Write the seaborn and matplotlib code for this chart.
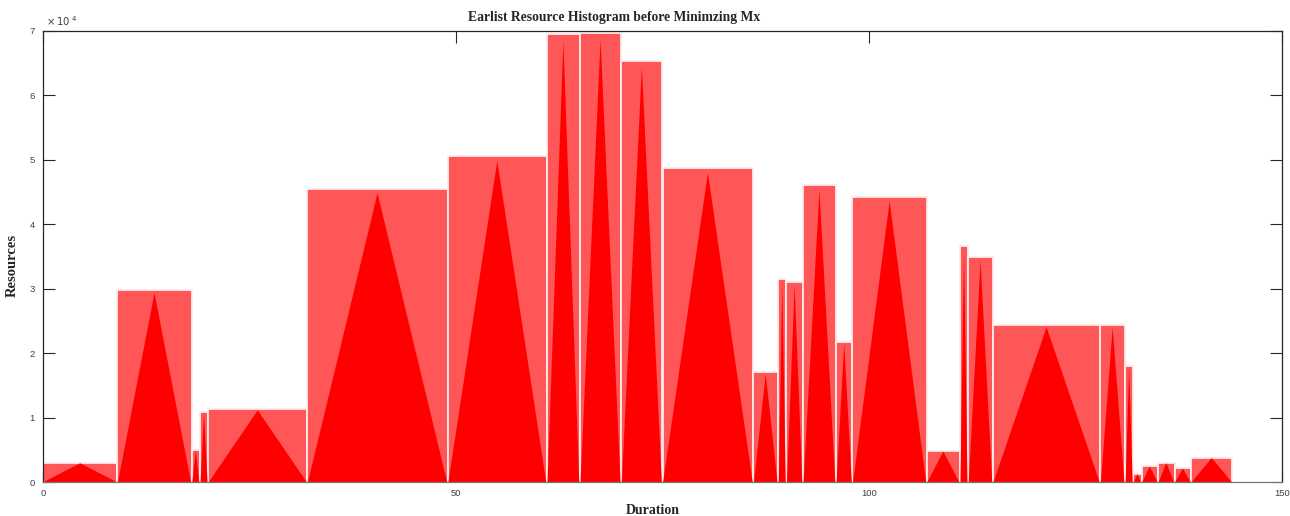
import matplotlib
matplotlib.use("Agg")
import matplotlib.pyplot as plt
import seaborn as sns
import numpy as np

# ---- data ----
bar_start = [0, 9, 18, 19, 20, 32, 49, 61, 65, 70, 75, 86, 89, 90, 92, 96, 98,
             107, 111, 112, 115, 128, 131, 132, 133, 135, 137, 139]
bar_end = [9, 18, 19, 20, 32, 49, 61, 65, 70, 75, 86, 89, 90, 92, 96, 98, 107,
           111, 112, 115, 128, 131, 132, 133, 135, 137, 139, 144]
resources = [2950, 29770, 4970, 10870, 11290, 45500, 50570, 69460, 69720, 65370,
             48710, 17030, 31470, 31100, 46070, 21790, 44250, 4810, 36650, 34890,
             24380, 24330, 18010, 1240, 2430, 3000, 2120, 3780]
x_ticks = [0, 50, 100, 150]
y_ticks = [0, 10000, 20000, 30000, 40000, 50000, 60000, 70000]
y_tick_labels = ["0", "1", "2", "3", "4", "5", "6", "7"]
title = "Earlist Resource Histogram before Minimzing Mx"
x_label = "Duration"
y_label = "Resources"

sns.set_style("white")
plt.rcParams["font.family"] = ["Liberation Sans", "DejaVu Sans"]

fig = plt.figure(figsize=(12.9, 5.16), dpi=100)
ax = fig.add_axes([43 / 1290, 1 - 482 / 516, (1282 - 43) / 1290, (482 - 31) / 516])

starts = np.array(bar_start, dtype=float)
ends = np.array(bar_end, dtype=float)
h = np.array(resources, dtype=float)
widths = ends - starts

ax.bar(starts, h, width=widths, align="edge", color=(1.0, 0.34, 0.34),
       edgecolor=(1.0, 0.92, 0.92), linewidth=1.3, zorder=1)
for s, e, v in zip(starts, ends, h):
    ax.fill([s + 0.08, (s + e) / 2, e - 0.08], [0, v * 0.985, 0],
            color=(1.0, 0.0, 0.0), edgecolor="none", zorder=2)

ax.set_xlim(0, 150)
ax.set_ylim(0, 70000)
ax.set_xticks(x_ticks)
ax.set_xticklabels([str(t) for t in x_ticks])
ax.set_yticks(y_ticks)
ax.set_yticklabels(y_tick_labels)
ax.set_axisbelow(True)
ax.tick_params(direction="in", length=8.6, width=0.8, color="#262626",
               labelsize=6.8, labelcolor="#404040", top=True, right=True,
               left=True, bottom=True)
ax.tick_params(axis="y", pad=6)
ax.tick_params(axis="x", pad=5)
for sp in ax.spines.values():
    sp.set_visible(True)
    sp.set_color("#262626")
    sp.set_linewidth(0.9)
ax.spines["bottom"].set_color("#777777")

serif = ["Liberation Serif", "DejaVu Serif"]
fig.text(614 / 1290, 1 - 17 / 516, title, ha="center", va="center",
         fontsize=9.8, fontweight="bold", family=serif)
fig.text(653 / 1290, 1 - 510 / 516, x_label, ha="center", va="center",
         fontsize=10, fontweight="bold", family=serif)
fig.text(12 / 1290, 1 - 265 / 516, y_label, ha="center", va="center",
         rotation=90, fontsize=10.5, fontweight="bold", family=serif)
fig.text(46 / 1290, 1 - 21 / 516, r"$\times\,10^{\ 4}$", ha="left", va="center",
         fontsize=7.2, color="#404040")

fig.savefig("out.png", dpi=100)
